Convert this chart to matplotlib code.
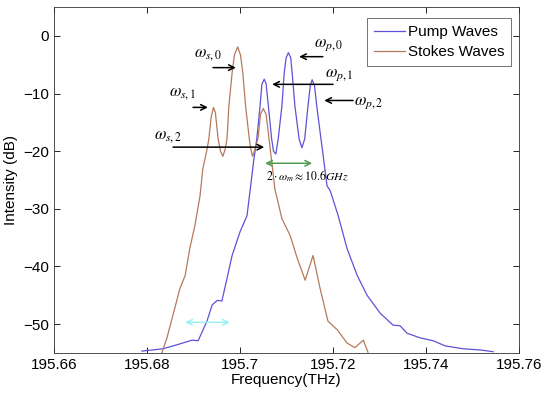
import numpy as np
import matplotlib
matplotlib.use('Agg')
import matplotlib.pyplot as plt

plt.rcParams['font.family'] = ['Liberation Sans', 'DejaVu Sans']
plt.rcParams['mathtext.fontset'] = 'stix'

# stokes spectrum (THz, dB)
stokes_f = [195.6832, 195.6843, 195.6856, 195.6871, 195.6882, 195.6892, 195.6903,
            195.6914, 195.6920, 195.6929, 195.6933, 195.6938, 195.6943, 195.6947,
            195.6953, 195.6958, 195.6963, 195.6968, 195.6972, 195.6976, 195.6983,
            195.6988, 195.6995, 195.7001, 195.7006, 195.7012, 195.7020, 195.7024,
            195.7027, 195.7032, 195.7039, 195.7044, 195.7050, 195.7056, 195.7060,
            195.7065, 195.7075, 195.7090, 195.7108, 195.7123, 195.7140, 195.7157,
            195.7172, 195.7189, 195.7209, 195.7230, 195.7247, 195.7265, 195.7275]
stokes_db = [-55.0, -52.4, -48.4, -43.8, -41.6, -36.9, -32.9,
             -27.8, -23.1, -19.7, -17.9, -14.1, -12.4, -13.3,
             -17.9, -20.0, -20.9, -19.7, -17.9, -12.2, -6.4,
             -3.3, -1.9, -3.3, -6.4, -12.2, -17.9, -20.0,
             -20.9, -19.7, -17.6, -13.6, -12.6, -13.6, -16.2,
             -19.7, -26.6, -31.7, -34.7, -38.6, -42.4, -38.1,
             -43.8, -49.5, -51.0, -53.3, -54.1, -52.8, -54.9]

# pump spectrum (THz, dB)
pump_f = [195.6789, 195.6834, 195.6856, 195.6877, 195.6897, 195.6910, 195.6929,
          195.6940, 195.6951, 195.6961, 195.6972, 195.6983, 195.7000, 195.7015,
          195.7022, 195.7029, 195.7036, 195.7043, 195.7047, 195.7052, 195.7056,
          195.7061, 195.7068, 195.7072, 195.7077, 195.7082, 195.7090, 195.7095,
          195.7099, 195.7104, 195.7109, 195.7112, 195.7118, 195.7127, 195.7133,
          195.7139, 195.7146, 195.7151, 195.7155, 195.7160, 195.7165, 195.7174,
          195.7177, 195.7187, 195.7194, 195.7211, 195.7230, 195.7252, 195.7273,
          195.7301, 195.7329, 195.7344, 195.7359, 195.7387, 195.7415, 195.7441,
          195.7480, 195.7516, 195.7544]
pump_db = [-54.7, -54.3, -53.8, -53.3, -52.8, -52.9, -49.5,
           -46.7, -45.9, -46.0, -42.1, -38.1, -34.0, -31.2,
           -26.6, -21.9, -17.9, -12.2, -8.4, -7.5, -8.3,
           -12.2, -17.9, -20.0, -20.5, -17.9, -12.2, -6.4,
           -3.8, -2.9, -3.8, -6.4, -12.2, -17.9, -19.4,
           -17.9, -12.2, -8.6, -7.6, -8.6, -12.2, -17.9,
           -19.7, -26.0, -26.9, -31.2, -36.9, -41.6, -45.0,
           -48.1, -50.2, -50.3, -51.6, -52.4, -52.9, -53.8,
           -54.3, -54.5, -54.8]

xticks = [195.66, 195.68, 195.70, 195.72, 195.74, 195.76]
xtick_labels = ['195.66', '195.68', '195.7', '195.72', '195.74', '195.76']
yticks = [0, -10, -20, -30, -40, -50]

blue = '#5e52d8'
brown = '#b57a5c'

fig = plt.figure(figsize=(5.5, 3.96), dpi=100)
ax = fig.add_axes([0.098, 0.109, 0.846, 0.873])

ax.plot(pump_f, pump_db, color=blue, lw=0.9, label='Pump Waves')
ax.plot(stokes_f, stokes_db, color=brown, lw=0.9, label='Stokes Waves')

ax.set_xlim(195.66, 195.76)
ax.set_ylim(-55, 5)
ax.set_xticks(xticks)
ax.set_xticklabels(xtick_labels)
ax.set_yticks(yticks)
ax.tick_params(direction='in', top=True, right=True, labelsize=11, length=4, width=0.6)
for s in ax.spines.values():
    s.set_linewidth(0.6)
    s.set_color('#333333')

ax.set_xlabel('Frequency(THz)', fontsize=11, labelpad=1)
ax.set_ylabel('Intensity (dB)', fontsize=11, labelpad=4)

leg = ax.legend(loc='upper right', bbox_to_anchor=(0.983, 0.968), fontsize=11,
                fancybox=False, edgecolor='#333333', handlelength=2.0,
                borderpad=0.45, labelspacing=0.42, handletextpad=0.2, borderaxespad=0)
leg.get_frame().set_linewidth(0.6)

arrow = dict(arrowstyle='->', color='black', lw=1.1, shrinkA=0, shrinkB=0)
# stokes labels
ax.annotate('', xy=(195.6991, -5.5), xytext=(195.6942, -5.5), arrowprops=arrow)
ax.text(195.6931, -3.4, r'$\omega_{s,0}$', fontsize=12, ha='center', va='center')
ax.annotate('', xy=(195.6931, -12.4), xytext=(195.6899, -12.4), arrowprops=arrow)
ax.text(195.6877, -10.0, r'$\omega_{s,1}$', fontsize=12, ha='center', va='center')
ax.annotate('', xy=(195.7052, -19.3), xytext=(195.6856, -19.3), arrowprops=arrow)
ax.text(195.6845, -17.6, r'$\omega_{s,2}$', fontsize=12, ha='center', va='center')
# pump labels
ax.annotate('', xy=(195.7127, -3.6), xytext=(195.7178, -3.6), arrowprops=arrow)
ax.text(195.7191, -1.6, r'$\omega_{p,0}$', fontsize=12, ha='center', va='center')
ax.annotate('', xy=(195.7069, -8.4), xytext=(195.7200, -8.4), arrowprops=arrow)
ax.text(195.7213, -6.9, r'$\omega_{p,1}$', fontsize=12, ha='center', va='center')
ax.annotate('', xy=(195.7181, -11.2), xytext=(195.7243, -11.2), arrowprops=arrow)
ax.text(195.7277, -11.6, r'$\omega_{p,2}$', fontsize=12, ha='center', va='center')

# spacing marker
ax.annotate('', xy=(195.7155, -22.1), xytext=(195.7054, -22.1),
            arrowprops=dict(arrowstyle='<->', color='#4f9a4f', lw=1.1, shrinkA=0, shrinkB=0))
ax.text(195.7144, -24.3, r'$2\cdot\omega_m\approx 10.6GHz$', fontsize=8.5, ha='center', va='center')
ax.annotate('', xy=(195.6978, -49.7), xytext=(195.6882, -49.7),
            arrowprops=dict(arrowstyle='<->', color='#9ff0f5', lw=1.1, shrinkA=0, shrinkB=0))

fig.savefig('out.png', dpi=100)
